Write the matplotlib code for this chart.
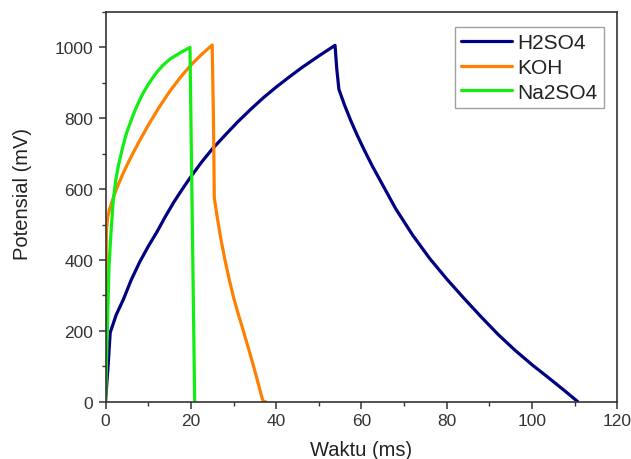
import matplotlib
matplotlib.use("Agg")
import matplotlib.pyplot as plt
from matplotlib.ticker import MultipleLocator

# ---- data ----
series_names = ["H2SO4", "KOH", "Na2SO4"]

h2so4_t = [0, 0.6, 1.1, 2.5, 4.2, 6, 8, 10, 12, 14, 16, 18, 20, 22.5, 25, 28, 31, 34, 37,
           40, 43, 46, 50, 53.8, 54.2, 54.7, 56, 57.5, 59, 60.5, 62.5, 64.5, 68, 72, 76,
           80, 84, 88, 92, 96, 100, 104, 107.5, 110.7]
h2so4_v = [0, 100, 195, 245, 289, 343, 394, 438, 478, 522, 563, 600, 635, 676, 713, 752,
           790, 825, 858, 888, 916, 943, 976, 1006, 940, 882, 838, 793, 752, 714, 666, 622,
           545, 470, 404, 346, 292, 240, 190, 145, 104, 66, 32, 0]

koh_t = [0, 0.1, 0.2, 0.5, 1, 2, 3, 4, 5, 6.5, 8, 10, 12.5, 15, 17.5, 20, 22.5, 25.0,
         25.3, 25.5, 26.2, 27, 28, 29, 30, 31, 32.5, 34, 35.5, 36.7, 37.0, 37.5]
koh_v = [0, 250, 480, 520, 545, 582, 613, 641, 667, 703, 737, 780, 830, 875, 915, 950, 980,
         1007, 800, 575, 520, 462, 400, 345, 295, 252, 192, 130, 65, 10, 0, 0]

na2so4_t = [0, 0.42, 0.82, 1.3, 1.83, 2.4, 3.0, 4.0, 4.97, 6.5, 7.3, 8.1, 9, 10, 11, 12.0,
            13.5, 15.1, 17.5, 19.8, 20.9]
na2so4_v = [0, 196, 383, 480, 571, 625, 665, 717, 760, 810, 833, 854, 875, 895, 913, 930,
            950, 967, 985, 1000, 0]

x_ticks = [0, 20, 40, 60, 80, 100, 120]
y_ticks = [0, 200, 400, 600, 800, 1000]

colors = ["#000080", "#FF8000", "#11EE11"]

plt.rcParams["font.family"] = ["Liberation Sans", "DejaVu Sans"]

fig = plt.figure(figsize=(6.31, 4.60), dpi=100)
ax = fig.add_axes([0.1672, 0.1246, 0.8114, 0.8471])

for t, v, c, name in zip([h2so4_t, koh_t, na2so4_t], [h2so4_v, koh_v, na2so4_v],
                         colors, series_names):
    ax.plot(t, v, color=c, lw=2.3, label=name, solid_joinstyle="round",
            solid_capstyle="round")

ax.set_xlim(0, 120)
ax.set_ylim(0, 1100)
ax.set_xticks(x_ticks)
ax.set_yticks(y_ticks)
ax.xaxis.set_minor_locator(MultipleLocator(10))
ax.yaxis.set_minor_locator(MultipleLocator(100))

for s in ax.spines.values():
    s.set_color("#333333")
    s.set_linewidth(1.2)

ax.tick_params(which="major", direction="out", length=5, width=1.1, color="#333333",
               labelsize=12.5, labelcolor="#333333")
ax.tick_params(which="minor", direction="out", length=3, width=1.0, color="#333333")
ax.tick_params(axis="x", pad=3.5)
ax.tick_params(axis="y", pad=4)

ax.set_xlabel("Waktu (ms)", fontsize=14.5, color="#222222")
ax.set_ylabel("Potensial (mV)", fontsize=14.5, color="#222222")
ax.xaxis.set_label_coords(0.5, -0.099)
ax.yaxis.set_label_coords(-0.1436, 0.535)

leg = ax.legend(loc="upper left", bbox_to_anchor=(0.6826, 0.9615), borderaxespad=0,
                fontsize=15, frameon=True, fancybox=False, edgecolor="#888888",
                handlelength=2.45, handletextpad=0.25, labelspacing=0.27,
                borderpad=0.3)
leg.get_frame().set_linewidth(1.0)
for txt in leg.get_texts():
    txt.set_color("#222222")

fig.savefig("out.png", dpi=100)
